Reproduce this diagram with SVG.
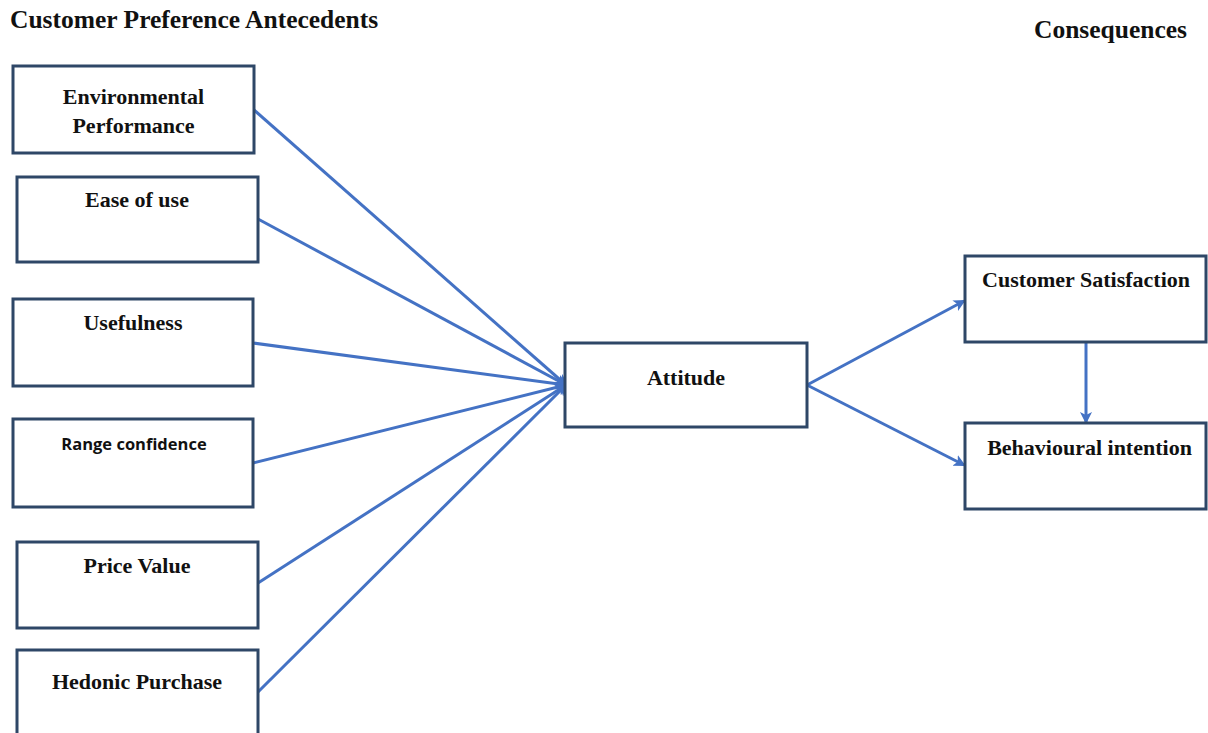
<svg xmlns="http://www.w3.org/2000/svg" width="1208" height="733" viewBox="0 0 1208 733">
<defs>
<style>
.box{fill:#fff;stroke:#2e4767;stroke-width:3}
.t{font-family:"Liberation Serif","Times New Roman",serif;font-weight:bold;font-size:22px;fill:#111;text-anchor:middle}
.s{font-family:"Open Sans","Liberation Sans",sans-serif;font-weight:bold;font-size:16.5px;fill:#111;text-anchor:middle}
.h{font-family:"Liberation Serif","Times New Roman",serif;font-weight:bold;font-size:25.5px;fill:#111}
.c{stroke:#4472c4;stroke-width:3;fill:none}
</style>
<marker id="ah" markerWidth="12" markerHeight="12" refX="10" refY="6" orient="auto" markerUnits="userSpaceOnUse">
<path d="M0,0 L12,6 L0,12 L3,6 Z" fill="#4472c4"/>
</marker>
</defs>
<rect width="1208" height="733" fill="#fff"/>
<text class="h" x="10" y="28">Customer Preference Antecedents</text>
<text class="h" x="1034" y="38">Consequences</text>
<g id="connectors">
<line class="c" x1="254" y1="110" x2="566" y2="385" marker-end="url(#ah)"/>
<line class="c" x1="258" y1="219" x2="566" y2="385" marker-end="url(#ah)"/>
<line class="c" x1="253" y1="343" x2="566" y2="385" marker-end="url(#ah)"/>
<line class="c" x1="253" y1="463" x2="566" y2="385" marker-end="url(#ah)"/>
<line class="c" x1="258" y1="583" x2="566" y2="385" marker-end="url(#ah)"/>
<line class="c" x1="258" y1="692" x2="566" y2="385" marker-end="url(#ah)"/>
<line class="c" x1="807" y1="385" x2="964" y2="301" marker-end="url(#ah)"/>
<line class="c" x1="807" y1="385" x2="964" y2="465" marker-end="url(#ah)"/>
<line class="c" x1="1086" y1="342" x2="1086" y2="422" marker-end="url(#ah)"/>
</g>
<g id="env"><rect class="box" x="13" y="66" width="241" height="87"/><text class="t" x="133.5" y="104">Environmental</text><text class="t" x="133.5" y="133">Performance</text></g>
<g id="ease"><rect class="box" x="17" y="177" width="241" height="85"/><text class="t" x="137" y="207">Ease of use</text></g>
<g id="useful"><rect class="box" x="13" y="299" width="240" height="87"/><text class="t" x="133" y="330">Usefulness</text></g>
<g id="range"><rect class="box" x="13" y="419" width="240" height="88"/><text class="s" x="134" y="450">Range confidence</text></g>
<g id="price"><rect class="box" x="17" y="542" width="241" height="86"/><text class="t" x="137" y="573">Price Value</text></g>
<g id="hedonic"><rect class="box" x="17" y="650" width="241" height="90"/><text class="t" x="137" y="689">Hedonic Purchase</text></g>
<g id="attitude"><rect class="box" x="565" y="343" width="242" height="84"/><text class="t" x="686" y="385">Attitude</text></g>
<g id="satisfaction"><rect class="box" x="965" y="256" width="241" height="86"/><text class="t" x="1086" y="287">Customer Satisfaction</text></g>
<g id="intention"><rect class="box" x="965" y="423" width="241" height="86"/><text class="t" x="1089.5" y="455">Behavioural intention</text></g>
</svg>
